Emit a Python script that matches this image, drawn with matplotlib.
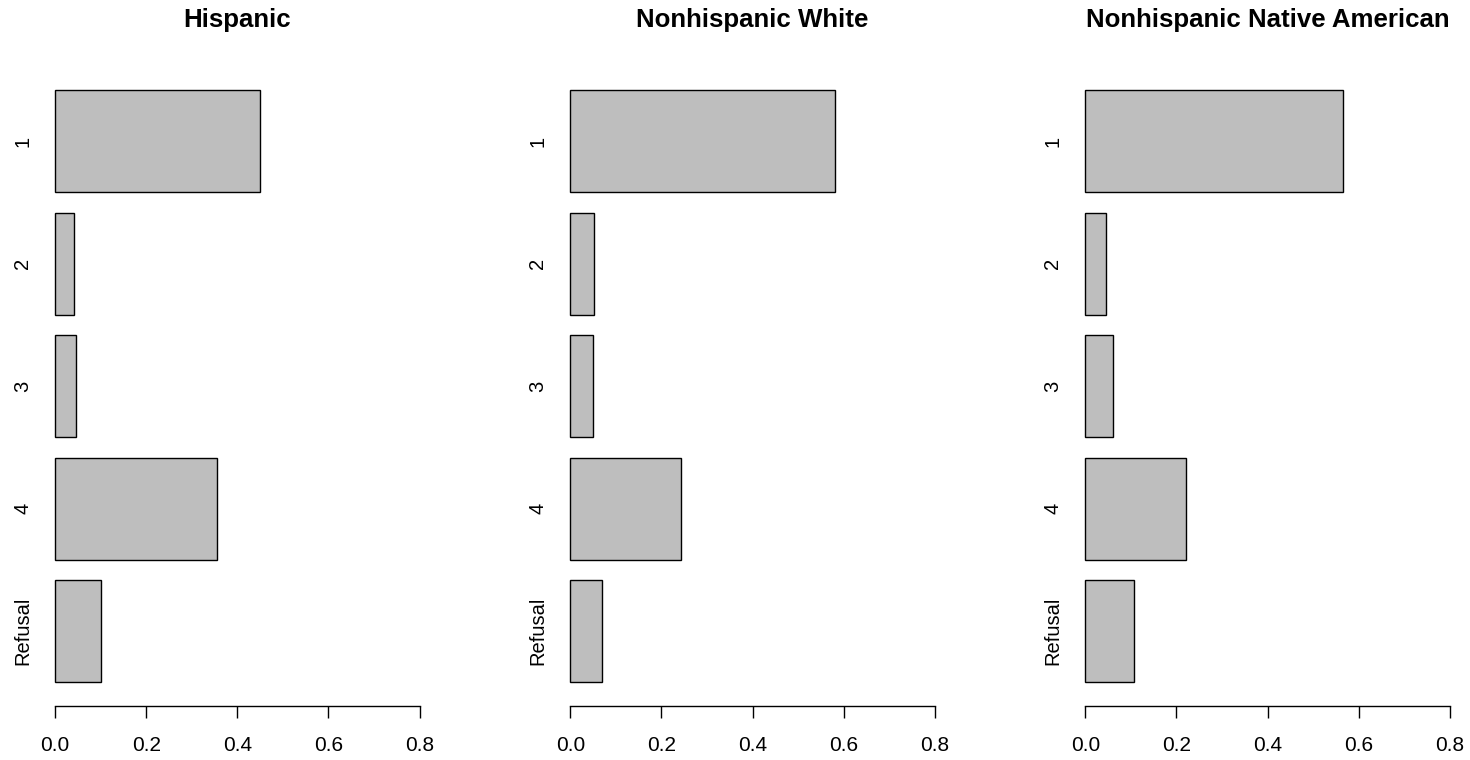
import matplotlib
matplotlib.use("Agg")
import matplotlib.pyplot as plt

plt.rcParams["font.family"] = ["Liberation Sans", "DejaVu Sans"]

# dati (proporzioni per gruppo)
categories = ["1", "2", "3", "4", "Refusal"]
hispanic = [0.450, 0.042, 0.046, 0.355, 0.102]
white = [0.580, 0.053, 0.050, 0.243, 0.070]
native = [0.566, 0.046, 0.060, 0.222, 0.106]
titles = ["Hispanic", "Nonhispanic White", "Nonhispanic Native American"]
xticks = [0.0, 0.2, 0.4, 0.6, 0.8]

W, H = 1470, 760
fig = plt.figure(figsize=(W / 100, H / 100), dpi=100)

# centri delle barre come in barplot di R (width=1, space=0.2)
pos = [0.2 + 1.2 * i + 0.5 for i in range(len(categories))]

lefts = [40.4, 555.7, 1070.7]
pw, top, bottom = 393.8, 66.3, 706.0

for left, vals, title in zip(lefts, [hispanic, white, native], titles):
    ax = fig.add_axes([left / W, (H - bottom) / H, pw / W, (bottom - top) / H])
    ax.barh(pos, vals, height=1.0, left=0, color="#BEBEBE",
            edgecolor="black", linewidth=1.0)
    ax.set_xlim(-0.032, 0.832)
    ax.set_ylim(6.232, -0.032)
    for s in ["top", "right", "left"]:
        ax.spines[s].set_visible(False)
    ax.spines["bottom"].set_bounds(0, 0.8)
    ax.spines["bottom"].set_linewidth(1.0)
    ax.set_xticks(xticks)
    ax.set_xticklabels([f"{t:.1f}" for t in xticks], fontsize=15)
    ax.tick_params(axis="x", length=8.6, width=1.0, pad=13)
    ax.set_yticks(pos)
    ax.set_yticklabels(categories, rotation=90, va="center", fontsize=14.5)
    ax.tick_params(axis="y", length=0, pad=6)
    ax.text(0.5, 1 + 39 / (bottom - top), title, transform=ax.transAxes,
            ha="center", va="baseline", fontsize=18.6, fontweight="bold")

fig.savefig("out.png", dpi=100, facecolor="white")
